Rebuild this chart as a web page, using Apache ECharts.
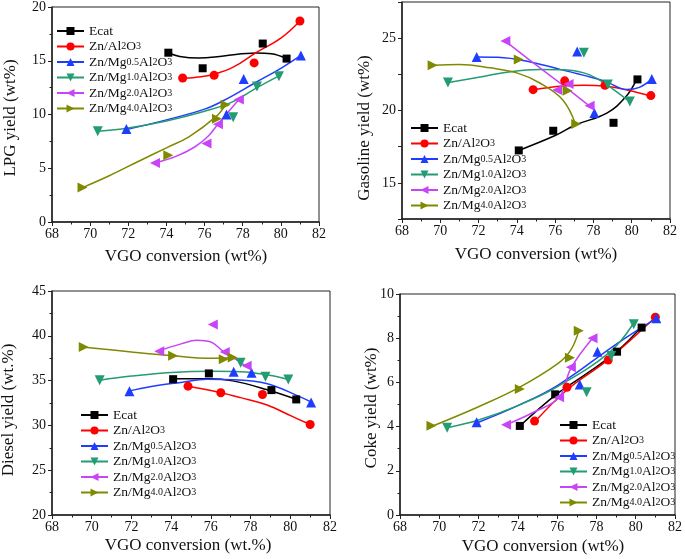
<!DOCTYPE html>
<html><head><meta charset="utf-8">
<script src="https://cdn.jsdelivr.net/npm/echarts@6/dist/echarts.min.js"></script>
<style>html,body{margin:0;padding:0;background:#fff}#c{width:685px;height:559px}</style>
</head><body><div id="c"></div>
<script>
// ---------- data ----------
const seriesNames = ['Ecat', 'Zn/Al2O3', 'Zn/Mg0.5Al2O3', 'Zn/Mg1.0Al2O3', 'Zn/Mg2.0Al2O3', 'Zn/Mg4.0Al2O3'];
const xTicks = [68, 70, 72, 74, 76, 78, 80, 82];

// VGO conversion of each run (wt%)
const xEcat = [74.1, 75.9, 79.05, 80.3];
const xZnAl = [74.85, 76.5, 78.6, 81.0];
const xMg05 = [71.9, 77.15, 78.05, 81.05];
const xMg10 = [70.4, 77.5, 78.75, 79.9];
const xMg20 = [73.4, 76.1, 76.7, 77.8];
const xMg40 = [69.6, 74.1, 76.65, 77.1];

// LPG yield (wt%)
const lpgEcat = [15.75, 14.3, 16.6, 15.2];
const lpgZnAl = [13.4, 13.65, 14.8, 18.7];
const lpgMg05 = [8.65, 10.0, 13.3, 15.5];
const lpgMg10 = [8.45, 9.75, 12.6, 13.55];
const lpgMg20 = [5.5, 7.3, 9.1, 11.4];
const lpgMg40 = [3.2, 6.2, 9.6, 10.9];
// LPG fitted curves [conversion, yield]
const lpgFitEcat = [[74.1, 15.75], [74.7, 15.4], [75.7, 15.25], [77, 15.45], [78.7, 15.72], [79.5, 15.65], [80.3, 15.2]];
const lpgFitZnAl = [[74.85, 13.4], [75.5, 13.45], [76.5, 13.75], [77.5, 14.4], [78.7, 15.75], [80, 17.1], [81.0, 18.7]];
const lpgFitMg05 = [[71.9, 8.6], [74, 9.5], [76, 10.5], [77, 11.3], [78.7, 13.0], [80, 14.3], [81.05, 15.5]];
const lpgFitMg10 = [[70.4, 8.45], [72, 8.75], [74, 9.4], [76, 10.3], [77.5, 11.2], [78.75, 12.5], [79.9, 13.6]];
const lpgFitMg20 = [[73.4, 5.5], [74.5, 6.1], [75.5, 7.0], [76.2, 8.0], [76.7, 9.1], [77.8, 11.4]];
const lpgFitMg40 = [[69.6, 3.2], [71, 4.3], [72.6, 5.7], [74, 6.9], [75.2, 7.95], [76.6, 9.8], [77.1, 10.9]];

// Gasoline yield (wt%)
const gasEcat = [17.24, 18.6, 19.15, 22.15];
const gasZnAl = [21.44, 22.05, 21.74, 21.03];
const gasMg05 = [23.7, 24.08, 19.82, 22.17];
const gasMg10 = [21.94, 24.0, 21.8, 20.62];
const gasMg20 = [24.8, 21.42, 21.83, 20.32];
const gasMg40 = [23.13, 23.52, 21.37, 19.07];
const gasFitEcat = [[74.1, 17.24], [76, 18.27], [77.06, 19.0], [78.7, 19.82], [79.7, 20.96], [80.26, 22.15]];
const gasFitZnAl = [[74.84, 21.44], [76.4, 21.69], [77.5, 21.75], [78.56, 21.69], [79.8, 21.4], [81.0, 21.0]];
const gasFitMg05 = [[71.88, 23.7], [73, 23.68], [74.7, 23.36], [76.4, 22.79], [78.56, 22.05], [79.74, 21.45], [80.4, 21.6], [81.05, 22.17]];
const gasFitMg10 = [[70.43, 21.94], [72, 22.3], [73.5, 22.65], [75.2, 22.83], [76.4, 22.82], [77.5, 22.6], [78.17, 22.22], [79.0, 21.5], [79.88, 20.62]];
const gasFitMg20 = [[73.4, 24.8], [75, 23.15], [76.5, 21.65], [77.8, 20.3]];
const gasFitMg40 = [[69.65, 23.13], [71, 23.18], [72.6, 22.95], [74, 22.6], [75.2, 21.9], [76.4, 20.73], [77.06, 19.07]];

// Diesel yield (wt.%)
const dieEcat = [35.16, 35.8, 33.94, 32.9];
const dieZnAl = [34.38, 33.64, 33.45, 30.1];
const dieMg05 = [33.82, 35.98, 35.87, 32.56];
const dieMg10 = [35.05, 36.98, 35.42, 35.13];
const dieMg20 = [38.28, 41.26, 38.2, 36.65];
const dieMg40 = [38.76, 37.76, 37.39, 37.58];
const dieFitEcat = [[74.1, 35.2], [75.9, 35.2], [77.1, 34.97], [78.8, 34.0], [80.3, 32.9]];
const dieFitZnAl = [[74.8, 34.4], [76.4, 33.7], [77.5, 33.1], [78.8, 32.3], [80.1, 31.0], [81.0, 30.1]];
const dieFitMg05 = [[71.8, 33.8], [73, 34.35], [74.5, 34.8], [75.8, 35.16], [77.2, 35.1], [78.8, 34.68], [80.5, 33.19], [81.05, 32.6]];
const dieFitMg10 = [[70.4, 35.05], [72, 35.5], [74, 35.9], [76, 36.05], [77.5, 36.0], [78.7, 35.7], [79.9, 35.13]];
const dieFitMg20 = [[73.35, 38.3], [74.5, 39.1], [75.3, 39.5], [76.0, 39.3], [76.6, 38.3], [77.1, 37.6], [77.75, 36.65]];
const dieFitMg40 = [[69.5, 38.76], [72, 38.2], [74, 37.8], [76, 37.5], [77.0, 37.55]];

// Coke yield (wt%)
const cokEcat = [4.03, 5.46, 7.39, 8.48];
const cokZnAl = [4.25, 5.78, 7.01, 8.95];
const cokMg05 = [4.2, 5.91, 7.39, 8.9];
const cokMg10 = [3.95, 5.55, 7.19, 8.63];
const cokMg20 = [4.08, 5.33, 6.68, 8.0];
const cokMg40 = [4.04, 5.7, 7.12, 8.34];
const cokFitEcat = [[74.1, 4.03], [75.96, 5.46], [77.5, 6.4], [79.03, 7.39], [80.27, 8.48]];
const cokFitZnAl = [[74.9, 4.25], [76.55, 5.7], [78.56, 7.01], [81.0, 8.95]];
const cokFitMg05 = [[72.0, 4.2], [74, 4.95], [76.05, 5.88], [79.07, 7.77], [81.05, 8.9]];
const cokFitMg10 = [[70.4, 3.95], [72, 4.3], [74, 4.95], [76, 5.8], [78.65, 7.35], [79.86, 8.63]];
const cokFitMg20 = [[73.4, 4.08], [74.8, 4.65], [76.1, 5.33], [76.7, 6.64], [77.8, 8.0]];
const cokFitMg40 = [[69.7, 4.04], [72, 4.9], [74.05, 5.76], [76.05, 6.86], [76.7, 7.47], [77.1, 8.33]];

// ---------- style ----------
const xRuns = [xEcat, xZnAl, xMg05, xMg10, xMg20, xMg40];
const colors = ['#000000', '#ff0000', '#1f3dff', '#239b73', '#c845f5', '#808a00'];
const symbols = ['rect', 'circle', 'triangle', 'path://M0,0L10,0L5,9Z', 'path://M9,0L9,10L0,5Z', 'path://M0,0L9,5L0,10Z'];
const symSizes = [8, 9, 10, 10, 10, 10];
const FONT = 'Liberation Serif';

const panels = [
  {pts: [lpgEcat, lpgZnAl, lpgMg05, lpgMg10, lpgMg20, lpgMg40], fits: [lpgFitEcat, lpgFitZnAl, lpgFitMg05, lpgFitMg10, lpgFitMg20, lpgFitMg40],
   grid: {left: 52, top: 7, width: 267, height: 215}, y: {min: 0, max: 20, interval: 5, minor: true},
   legend: {left: 56, top: 24}, xt: [186, 257], yt: [11, 118, 'LPG yield (wt%)'], xtitle: 'VGO conversion (wt%)'},
  {pts: [gasEcat, gasZnAl, gasMg05, gasMg10, gasMg20, gasMg40], fits: [gasFitEcat, gasFitZnAl, gasFitMg05, gasFitMg10, gasFitMg20, gasFitMg40],
   grid: {left: 402, top: 2, width: 268, height: 217}, y: {min: 12.5, max: 27.5, interval: 2.5, minor: false, every: 5},
   legend: {left: 410, top: 121}, xt: [536, 255], yt: [365, 128, 'Gasoline yield (wt%)'], xtitle: 'VGO conversion (wt%)'},
  {pts: [dieEcat, dieZnAl, dieMg05, dieMg10, dieMg20, dieMg40], fits: [dieFitEcat, dieFitZnAl, dieFitMg05, dieFitMg10, dieFitMg20, dieFitMg40],
   grid: {left: 52, top: 291, width: 278, height: 224}, y: {min: 20, max: 45, interval: 5, minor: true},
   legend: {left: 80, top: 408}, xt: [188, 546], yt: [9, 410, 'Diesel yield (wt.%)'], xtitle: 'VGO conversion (wt.%)'},
  {pts: [cokEcat, cokZnAl, cokMg05, cokMg10, cokMg20, cokMg40], fits: [cokFitEcat, cokFitZnAl, cokFitMg05, cokFitMg10, cokFitMg20, cokFitMg40],
   grid: {left: 400, top: 294, width: 278, height: 221}, y: {min: 0, max: 10, interval: 2, minor: true},
   legend: {left: 559, top: 418}, xt: [543, 547], yt: [372, 408, 'Coke yield (wt%)'], xtitle: 'VGO conversion (wt%)'}
];

const axisCommon = {
  axisLine: {lineStyle: {color: '#222', width: 1.5}},
  axisTick: {length: 4, lineStyle: {color: '#222', width: 1}},
  minorTick: {length: 2.5, lineStyle: {color: '#222', width: 1}},
  splitLine: {show: false}
};

const grids = [], xAxes = [], yAxes = [], lineSeries = [], scatterSeries = [], legends = [], graphics = [];
panels.forEach((p, i) => {
  grids.push(Object.assign({show: true, borderColor: '#222', borderWidth: 1, containLabel: false}, p.grid));
  xAxes.push(Object.assign({}, axisCommon, {
    gridIndex: i, type: 'value', min: xTicks[0], max: xTicks[xTicks.length - 1], interval: 2,
    minorTick: Object.assign({show: true, splitNumber: 2}, axisCommon.minorTick),
    axisLabel: {margin: 5, color: '#111', fontFamily: FONT, fontSize: 14}
  }));
  const every = p.y.every;
  yAxes.push(Object.assign({}, axisCommon, {
    gridIndex: i, type: 'value', min: p.y.min, max: p.y.max, interval: p.y.interval,
    minorTick: Object.assign({show: p.y.minor, splitNumber: 2}, axisCommon.minorTick),
    axisLabel: {margin: 6, color: '#111', fontFamily: FONT, fontSize: 14,
      formatter: v => (every ? (Math.abs(v / every - Math.round(v / every)) < 1e-6 ? String(v) : '') : String(v))}
  }));
  seriesNames.forEach((name, k) => {
    lineSeries.push({
      type: 'line', name: name, xAxisIndex: i, yAxisIndex: i, smooth: 0.4,
      data: p.fits[k], showSymbol: false, symbol: symbols[k], symbolSize: symSizes[k],
      lineStyle: {color: colors[k], width: 1.5}, itemStyle: {color: colors[k]},
      silent: true, z: 2, animation: false
    });
    scatterSeries.push({
      type: 'scatter', name: name, xAxisIndex: i, yAxisIndex: i,
      data: xRuns[k].map((x, j) => [x, p.pts[k][j]]),
      symbol: symbols[k], symbolSize: symSizes[k], itemStyle: {color: colors[k], opacity: 1},
      z: 3, animation: false
    });
  });
  legends.push({
    orient: 'vertical', left: p.legend.left, top: p.legend.top, data: seriesNames,
    itemWidth: 27, itemHeight: 10, itemGap: 1.5, padding: 0, selectedMode: false,
    textStyle: {fontFamily: FONT, fontSize: 13.5, color: '#111', lineHeight: 14,
      rich: {s: {fontFamily: FONT, fontSize: 10, color: '#111', lineHeight: 14}}},
    formatter: n => n.replace(/(\d+(?:\.\d+)?)/g, '{s|$1}')
  });
  graphics.push({type: 'text', x: p.xt[0], y: p.xt[1], silent: true,
    style: {text: p.xtitle, font: '17px ' + FONT, fill: '#111', textAlign: 'center', textVerticalAlign: 'middle'}});
  graphics.push({type: 'text', x: p.yt[0], y: p.yt[1], rotation: Math.PI / 2, silent: true,
    style: {text: p.yt[2], font: '17px ' + FONT, fill: '#111', textAlign: 'center', textVerticalAlign: 'middle'}});
});

const chart = echarts.init(document.getElementById('c'), null, {renderer: 'canvas'});
chart.setOption({
  backgroundColor: '#fff',
  animation: false,
  grid: grids, xAxis: xAxes, yAxis: yAxes,
  legend: legends,
  series: lineSeries.concat(scatterSeries),
  graphic: graphics
});
</script></body></html>
